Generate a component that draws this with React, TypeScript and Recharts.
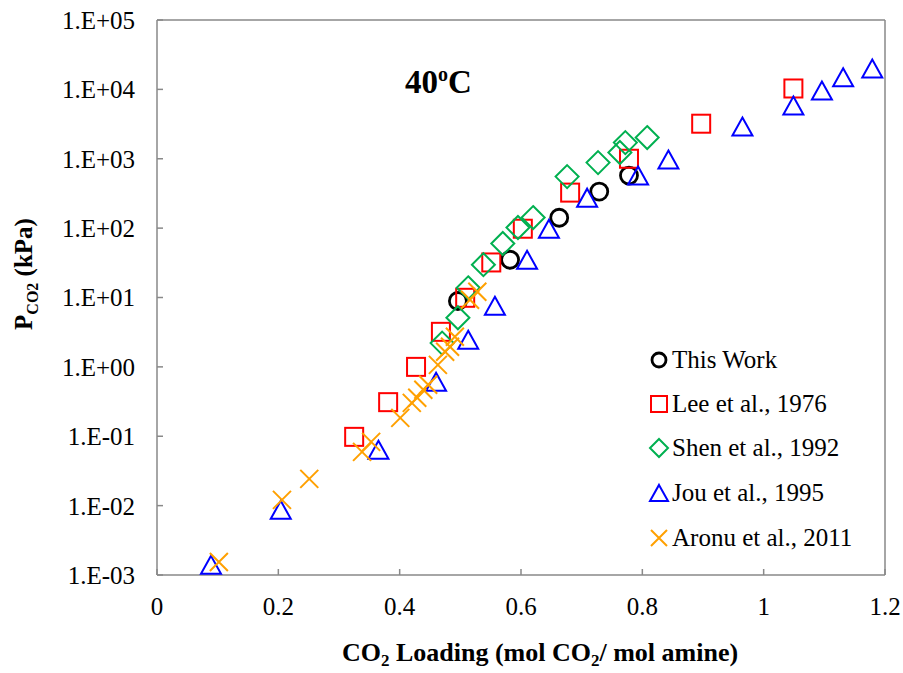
import React from "react";
import { ScatterChart, Scatter, XAxis, YAxis, ReferenceLine } from "recharts";

const thisWorkX = [0.496, 0.582, 0.663, 0.729, 0.778];
const thisWorkP = [8.9, 35, 141, 336, 572];

const leeX = [0.325, 0.381, 0.427, 0.468, 0.508, 0.551, 0.603, 0.681, 0.778, 0.897, 1.049];
const leeP = [0.098, 0.31, 1.0, 3.2, 9.9, 32, 98, 325, 1000, 3200, 10300];

const shenX = [0.47, 0.496, 0.513, 0.538, 0.57, 0.595, 0.62, 0.676, 0.727, 0.763, 0.772, 0.808];
const shenP = [2.2, 5.1, 13.8, 29.7, 60, 102, 142, 553, 880, 1230, 1710, 2020];

const jouX = [0.089, 0.204, 0.365, 0.46, 0.513, 0.557, 0.61, 0.646, 0.709, 0.793, 0.843, 0.965, 1.049, 1.096, 1.131, 1.179];
const jouP = [0.0014, 0.0087, 0.064, 0.61, 2.46, 7.6, 35, 98, 275, 573, 972, 2920, 5860, 9640, 14900, 20000];

const aronuX = [0.102, 0.206, 0.251, 0.338, 0.353, 0.401, 0.42, 0.429, 0.439, 0.447, 0.463, 0.475, 0.483, 0.491, 0.516, 0.528];
const aronuP = [0.00154, 0.0121, 0.0243, 0.0596, 0.083, 0.184, 0.303, 0.358, 0.468, 0.552, 1.07, 1.65, 1.95, 2.72, 9.3, 12.1];

const xTicks = [0, 0.2, 0.4, 0.6, 0.8, 1, 1.2];
const yTicks = [0.001, 0.01, 0.1, 1, 10, 100, 1000, 10000, 100000];

const seriesNames = ["This Work", "Lee et al., 1976", "Shen et al., 1992", "Jou et al., 1995", "Aronu et al., 2011"];

const zip = (xs: number[], ys: number[]) => xs.map((x, i) => ({ x, y: ys[i] }));

const FONT = "Liberation Serif";
const AXIS = "#898989";
const RED = "#FF0000";
const GREEN = "#00B050";
const BLUE = "#0000FF";
const ORANGE = "#FFA000";

type MP = { cx?: number; cy?: number };

const Circle = (s: number) => (p: MP) => (
  <circle cx={p.cx} cy={p.cy} r={s} fill="none" stroke="#000" strokeWidth={2.8} />
);
const Square = (s: number) => (p: MP) => (
  <rect x={(p.cx as number) - s} y={(p.cy as number) - s} width={2 * s} height={2 * s} fill="none" stroke={RED} strokeWidth={2} />
);
const Diamond = (s: number) => (p: MP) => {
  const cx = p.cx as number, cy = p.cy as number;
  return <path d={`M${cx},${cy - s}L${cx + s},${cy}L${cx},${cy + s}L${cx - s},${cy}Z`} fill="none" stroke={GREEN} strokeWidth={2} />;
};
const Triangle = (s: number) => (p: MP) => {
  const cx = p.cx as number, cy = p.cy as number;
  const h = s * 0.9;
  return <path d={`M${cx},${cy - h}L${cx + s},${cy + h}L${cx - s},${cy + h}Z`} fill="none" stroke={BLUE} strokeWidth={2} />;
};
const Cross = (s: number) => (p: MP) => {
  const cx = p.cx as number, cy = p.cy as number;
  return <path d={`M${cx - s},${cy - s}L${cx + s},${cy + s}M${cx + s},${cy - s}L${cx - s},${cy + s}`} fill="none" stroke={ORANGE} strokeWidth={2} />;
};

const fmtY = (v: number) => {
  const e = Math.round(Math.log10(v));
  const a = Math.abs(e);
  return `1.E${e >= 0 ? "+" : "-"}${a < 10 ? "0" + a : a}`;
};

const W = 895;
const H = 665;

export default function App() {
  const legendMarkers = [Circle(7), Square(8), Diamond(9), Triangle(9), Cross(8)];
  const legendY = [352, 396, 440, 485, 530];
  return (
    <div style={{ paddingTop: 8, paddingLeft: 8, width: W, height: H }}>
      <style>{"body{margin:0}"}</style>
      <div style={{ position: "relative", width: W, height: H, fontFamily: FONT }}>
        <ScatterChart width={W} height={H} margin={{ top: 12, right: 18, left: 0, bottom: 0 }}>
          <XAxis
            type="number"
            dataKey="x"
            domain={[0, 1.2]}
            ticks={xTicks}
            allowDataOverflow
            height={98}
            stroke={AXIS}
            strokeWidth={1.5}
            tickSize={-6}
            tickMargin={28}
            tick={{ fill: "#000", fontSize: 25, fontFamily: FONT }}
            interval={0}
          />
          <YAxis
            type="number"
            dataKey="y"
            scale="log"
            domain={[0.001, 100000]}
            ticks={yTicks}
            allowDataOverflow
            width={149}
            stroke={AXIS}
            strokeWidth={1.5}
            tickSize={-6}
            tickMargin={28}
            tickFormatter={fmtY}
            tick={{ fill: "#000", fontSize: 25, fontFamily: FONT }}
            interval={0}
          />
          <ReferenceLine x={1.2} stroke={AXIS} strokeWidth={1.5} />
          <ReferenceLine y={100000} stroke={AXIS} strokeWidth={1.5} />
          <Scatter name={seriesNames[0]} data={zip(thisWorkX, thisWorkP)} shape={Circle(8.5)} isAnimationActive={false} />
          <Scatter name={seriesNames[1]} data={zip(leeX, leeP)} shape={Square(9)} isAnimationActive={false} />
          <Scatter name={seriesNames[2]} data={zip(shenX, shenP)} shape={Diamond(11.5)} isAnimationActive={false} />
          <Scatter name={seriesNames[3]} data={zip(jouX, jouP)} shape={Triangle(10)} isAnimationActive={false} />
          <Scatter name={seriesNames[4]} data={zip(aronuX, aronuP)} shape={Cross(9)} isAnimationActive={false} />
        </ScatterChart>
        <svg
          width={W}
          height={H}
          style={{ position: "absolute", left: 0, top: 0, pointerEvents: "none" }}
          fontFamily={FONT}
        >
          <text x={397} y={85} fontSize={33} fontWeight="bold" fill="#000">
            40<tspan fontSize={20} dy={-12}>o</tspan>
            <tspan dy={12}>C</tspan>
          </text>
          <text x={532} y={653} fontSize={26} fontWeight="bold" fill="#000" textAnchor="middle">
            CO<tspan fontSize={17} dy={5}>2</tspan>
            <tspan dy={-5}> Loading (mol CO</tspan>
            <tspan fontSize={17} dy={5}>2</tspan>
            <tspan dy={-5}>/ mol amine)</tspan>
          </text>
          <text
            transform="translate(24,266) rotate(-90)"
            x={0}
            y={0}
            fontSize={25}
            fontWeight="bold"
            fill="#000"
            textAnchor="middle"
          >
            P<tspan fontSize={16} dy={6}>CO2</tspan>
            <tspan dy={-6}> (kPa)</tspan>
          </text>
          {seriesNames.map((n, i) => (
            <g key={n}>
              {legendMarkers[i]({ cx: 651, cy: legendY[i] })}
              <text x={664} y={legendY[i] + 8} fontSize={25} fill="#000">
                {n}
              </text>
            </g>
          ))}
        </svg>
      </div>
    </div>
  );
}
